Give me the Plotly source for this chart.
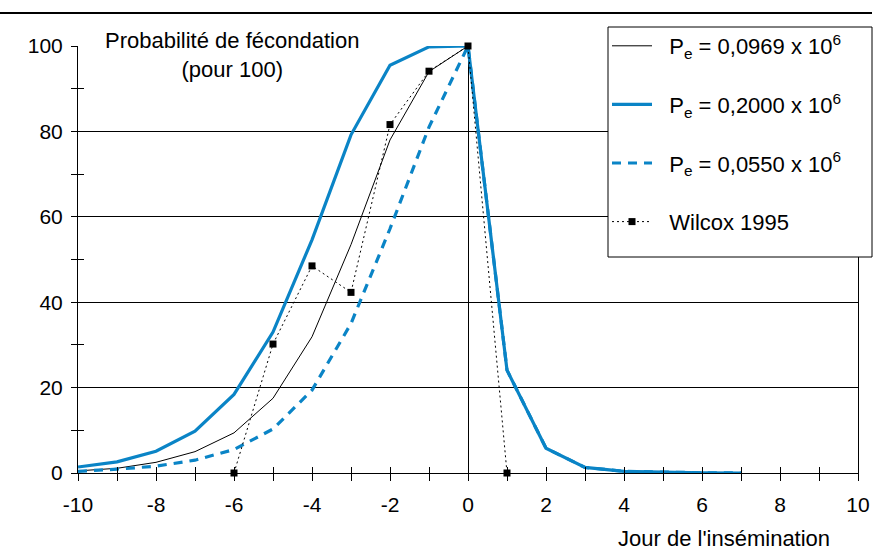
import plotly.graph_objects as go

# ---- data ----
days = [-10, -9, -8, -7, -6, -5, -4, -3, -2, -1, 0, 1, 2, 3, 4, 5, 6, 7]
pe_0969 = [0.5, 1.1, 2.5, 5.0, 9.4, 17.5, 31.9, 53.5, 78.0, 94.0, 100, 24.1, 5.8, 1.3, 0.4, 0.15, 0.05, 0.0]
pe_2000 = [1.4, 2.6, 5.1, 9.8, 18.4, 33.0, 54.6, 79.2, 95.5, 99.8, 100, 24.1, 5.8, 1.3, 0.4, 0.15, 0.05, 0.0]
pe_0550 = [0.4, 0.9, 1.6, 3.0, 5.5, 10.3, 19.4, 35.0, 57.2, 81.0, 100, 24.1, 5.8, 1.3, 0.4, 0.15, 0.05, 0.0]

wilcox_days = [-6, -5, -4, -3, -2, -1, 0, 1]
wilcox_vals = [0, 30.2, 48.5, 42.3, 81.6, 94.1, 100, 0]

x_tickvals = [-10, -8, -6, -4, -2, 0, 2, 4, 6, 8, 10]
x_ticktext = ["-10", "-8", "-6", "-4", "-2", "0", "2", "4", "6", "8", "10"]
y_tickvals = [0, 20, 40, 60, 80, 100]
y_ticktext = ["0", "20", "40", "60", "80", "100"]

names = [
    "P<sub>e</sub> = 0,0969 x 10<sup>6</sup>",
    "P<sub>e</sub> = 0,2000 x 10<sup>6</sup>",
    "P<sub>e</sub> = 0,0550 x 10<sup>6</sup>",
    "Wilcox 1995",
]
y_title = "Probabilité de fécondation<br>(pour 100)"
x_title = "Jour de l'insémination"

BLUE = "#0A84C6"
FONT = "Arial, Liberation Sans, sans-serif"
W, H = 877, 556
L, R, T, B = 78, 19, 46, 83
PW, PH = W - L - R, H - T - B
PAD = "\u00a0\u00a0"  # small gap between legend sample and label


def px(xp):
    return (xp - L) / PW


def py(yp):
    return (H - B - yp) / PH


fig = go.Figure()
fig.add_trace(go.Scatter(x=days, y=pe_0969, mode="lines", name=PAD + names[0],
                         line=dict(color="black", width=1), legendgroup="a"))
fig.add_trace(go.Scatter(x=days, y=pe_2000, mode="lines", name=PAD + names[1],
                         line=dict(color=BLUE, width=3.2), legendgroup="b"))
fig.add_trace(go.Scatter(x=days, y=pe_0550, mode="lines", name=PAD + names[2],
                         line=dict(color=BLUE, width=3.2, dash="9px,7px"), legendgroup="c"))
fig.add_trace(go.Scatter(x=wilcox_days, y=wilcox_vals, mode="lines+markers", name=PAD + names[3],
                         line=dict(color="black", width=1, dash="2px,3px"),
                         marker=dict(symbol="square", size=7, color="black"),
                         legendgroup="d", cliponaxis=False))

fig.update_layout(
    width=W, height=H,
    margin=dict(l=L, r=R, t=T, b=B, pad=0, autoexpand=False),
    paper_bgcolor="white", plot_bgcolor="white",
    font=dict(family=FONT, size=21, color="black"),
    showlegend=True,
    legend=dict(
        x=px(607), y=py(25), xanchor="left", yanchor="top",
        bgcolor="rgba(0,0,0,0)", borderwidth=0,
        font=dict(family=FONT, size=22, color="black"),
        tracegroupgap=27, itemwidth=40,
    ),
    xaxis=dict(
        range=[-10, 10], tickvals=x_tickvals, ticktext=x_ticktext,
        showgrid=False, zeroline=True, zerolinecolor="black", zerolinewidth=1,
        showline=True, linecolor="black", linewidth=1,
        ticks="outside", ticklen=7, tickcolor="black", tickwidth=1,
        minor=dict(dtick=1, tick0=0, ticks="outside", ticklen=7, tickcolor="black", showgrid=False),
        tickfont=dict(family=FONT, size=21, color="black"),
        ticklabelstandoff=6,
    ),
    xaxis2=dict(
        range=[-10, 10], overlaying="x", anchor="y", side="bottom",
        dtick=1, tick0=0, ticks="inside", ticklen=6, tickcolor="black",
        showticklabels=False, showgrid=False, zeroline=False, showline=False,
    ),
    yaxis=dict(
        range=[0, 100], tickvals=y_tickvals, ticktext=y_ticktext,
        showgrid=True, gridcolor="black", gridwidth=1, zeroline=False,
        showline=True, linecolor="black", linewidth=1, mirror=True,
        ticks="outside", ticklen=6, tickcolor="black", tickwidth=1,
        minor=dict(dtick=10, tick0=0, ticks="outside", ticklen=6, tickcolor="black", showgrid=False),
        tickfont=dict(family=FONT, size=21, color="black"),
        ticklabelstandoff=4,
    ),
    yaxis2=dict(
        range=[0, 100], overlaying="y", anchor="x", side="left",
        tickvals=[10, 30, 50, 70, 90], ticks="inside", ticklen=6, tickcolor="black",
        showticklabels=False, showgrid=False, zeroline=False, showline=False,
    ),
)

# invisible helper trace so the overlay axes are rendered
fig.add_trace(go.Scatter(x=[-10], y=[0], xaxis="x2", yaxis="y2", mode="markers",
                         marker=dict(opacity=0), showlegend=False, hoverinfo="skip"))

fig.add_annotation(text=y_title, xref="paper", yref="paper",
                   x=px(232), y=py(55), xanchor="center", yanchor="middle",
                   showarrow=False, bgcolor="white", borderpad=4,
                   font=dict(family=FONT, size=22, color="black"))
fig.add_annotation(text=x_title, xref="paper", yref="paper",
                   x=px(724), y=py(538), xanchor="center", yanchor="middle",
                   showarrow=False, font=dict(family=FONT, size=22, color="black"))

# decorative rule across the top of the figure
fig.add_shape(type="line", xref="paper", yref="paper",
              x0=px(0), x1=px(872), y0=py(13), y1=py(13),
              line=dict(color="black", width=2))
# legend frame
fig.add_shape(type="rect", xref="paper", yref="paper", layer="above",
              x0=px(608), x1=px(872), y0=py(257), y1=py(27),
              fillcolor="white", line=dict(color="black", width=1))

fig.write_html("out.html", config={"displayModeBar": False},
               post_script="document.body.style.margin='0';")
